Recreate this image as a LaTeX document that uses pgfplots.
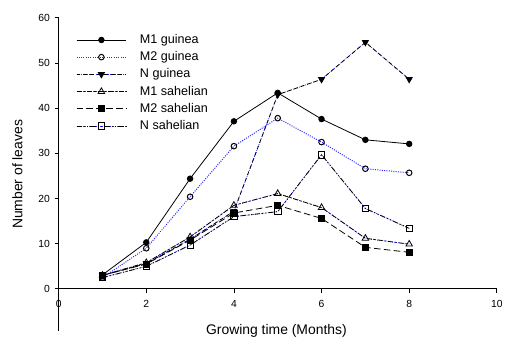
\documentclass[border=0pt]{standalone}
\usepackage{pgfplots}
\pgfplotsset{compat=1.18}
\usepackage{fontspec}
\setmainfont{Liberation Sans}
\definecolor{dotblue}{RGB}{40,40,255}
\begin{document}
\begin{tikzpicture}
\begin{axis}[
  scale only axis,
  width=330.75pt, height=236.25pt,
  xmin=0, xmax=10, ymin=-9.3, ymax=60,
  axis x line*=middle, axis y line*=left,
  hide obscured x ticks=false,
  xtick={0,2,4,6,8,10}, ytick={0,10,20,30,40,50,60},
  tick align=outside,
  major tick length=3pt,
  tick style={black, line width=0.6pt},
  axis line style={line width=0.7pt},
  /pgf/number format/assume math mode=true,
  tick label style={font=\fontsize{7.8}{9}\selectfont},
  xticklabel style={yshift=-2pt},
  xlabel={Growing time (Months)},
  ylabel={Number of leaves},
  label style={font=\fontsize{10.5}{12}\selectfont},
  xlabel style={at={(rel axis cs:0.497,0)}, anchor=center},
  ylabel style={at={(rel axis cs:-0.094,0.5)}, anchor=center},
  legend style={draw=none, fill=none, at={(rel axis cs:0.03,0.965)}, anchor=north west,
    font=\fontsize{9.5}{11}\selectfont, row sep=0.6pt},
  legend cell align=left,
  legend image code/.code={\draw[#1] (0cm,0cm) -- (1.32cm,0cm);
    \draw[#1, only marks] plot coordinates {(0.66cm,0cm)};
    \path (1.6cm,0cm);},
  clip=false,
]
\path (rel axis cs:0,0) ++(-44.25pt,-8.25pt) (rel axis cs:1,1) ++(5.25pt,13.5pt);
\addplot[black, line width=0.6pt, mark=*, mark size=2.1pt, mark options={solid, fill=black}]
  coordinates {(1,3.1) (2,10.3) (3,24.4) (4,37.1) (5,43.4) (6,37.6) (7,33.0) (8,32.1)};
\addlegendentry{M1 guinea}
\addplot[dotblue, densely dotted, line width=0.75pt, mark=o, mark size=2.1pt, mark options={solid, black, fill=white}]
  coordinates {(1,2.5) (2,9.0) (3,20.4) (4,31.6) (5,37.8) (6,32.5) (7,26.6) (8,25.7)};
\addlegendentry{M2 guinea}
\addplot[black, line width=0.6pt, dash pattern=on 3pt off 2.2pt, preaction={draw, dotblue, densely dotted},
  mark=triangle*, mark size=2.6pt, mark options={solid, rotate=180, fill=black}]
  coordinates {(1,3.0) (2,5.6) (3,11.0) (4,17.2) (5,43.0) (6,46.4) (7,54.6) (8,46.4)};
\addlegendentry{N guinea}
\addplot[black, line width=0.6pt, dash pattern=on 4pt off 1.5pt on 1pt off 1.5pt, preaction={draw, dotblue, densely dotted},
  mark=triangle, mark size=2.8pt, mark options={solid, fill=white}]
  coordinates {(1,3.0) (2,5.8) (3,11.5) (4,18.5) (5,21.1) (6,18.0) (7,11.2) (8,9.9)};
\addlegendentry{M1 sahelian}
\addplot[black, line width=0.6pt, dash pattern=on 5pt off 2.5pt,
  mark=square*, mark size=2.3pt, mark options={solid, fill=black}]
  coordinates {(1,3.0) (2,5.5) (3,10.8) (4,16.8) (5,18.5) (6,15.6) (7,9.2) (8,8.1)};
\addlegendentry{M2 sahelian}
\addplot[black, line width=0.6pt, dash pattern=on 4pt off 1.5pt on 1pt off 1.5pt on 1pt off 1.5pt, preaction={draw, dotblue, densely dotted},
  mark=square, mark size=2.4pt, mark options={solid, fill=white}]
  coordinates {(1,2.5) (2,5.0) (3,9.7) (4,16.0) (5,17.1) (6,29.7) (7,17.8) (8,13.4)};
\addlegendentry{N sahelian}
\end{axis}
\end{tikzpicture}
\end{document}
